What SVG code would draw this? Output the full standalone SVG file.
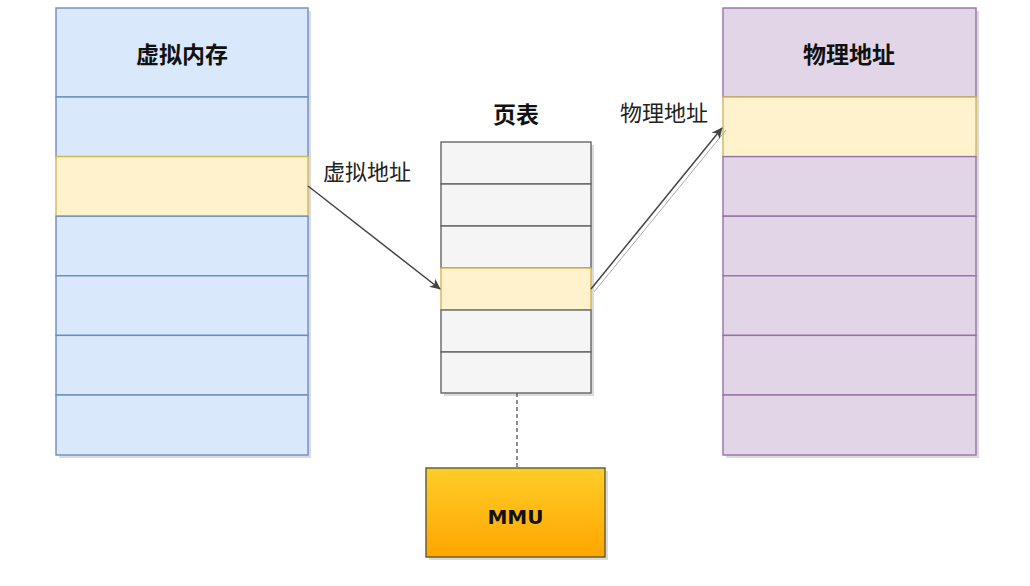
<svg xmlns="http://www.w3.org/2000/svg" width="1030" height="586" viewBox="0 0 1030 586">
<style>
.sh{fill:#000;opacity:0.14}
.blue{fill:#dae8fc;stroke:#6c8ebf;stroke-width:1.4}
.yel{fill:#fff2cc;stroke:#d6b656;stroke-width:1.4}
.pur{fill:#e1d5e7;stroke:#9673a6;stroke-width:1.4}
.gray{fill:#f5f5f5;stroke:#666666;stroke-width:1.4}
.title{font-family:"Noto Sans CJK SC","Noto Sans",sans-serif;font-weight:bold;font-size:23px;fill:#111;text-anchor:middle}
.lbl{font-family:"Noto Sans CJK SC","Noto Sans",sans-serif;font-size:22px;fill:#222;text-anchor:middle}
.edge{fill:none;stroke:#444;stroke-width:1.5}
</style>
<defs>
<linearGradient id="og" x1="0" y1="0" x2="0" y2="1">
<stop offset="0" stop-color="#ffcd28"/>
<stop offset="1" stop-color="#ffa500"/>
</linearGradient>
<marker id="ah" markerWidth="12" markerHeight="10" refX="10" refY="5" orient="auto" markerUnits="userSpaceOnUse">
<path d="M0,0 L11,5 L0,10 L3,5 Z" fill="#444"/>
</marker>
</defs>
<g id="virtual-memory">
<rect class="sh" x="59" y="11" width="252" height="447"/>
<rect class="blue" x="56" y="8" width="252" height="89"/>
<rect class="blue" x="56" y="97" width="252" height="59.6"/>
<rect class="yel" x="56" y="156.6" width="252" height="59.6"/>
<rect class="blue" x="56" y="216.2" width="252" height="59.6"/>
<rect class="blue" x="56" y="275.8" width="252" height="59.6"/>
<rect class="blue" x="56" y="335.4" width="252" height="59.6"/>
<rect class="blue" x="56" y="395" width="252" height="60"/>
<text class="title" x="182" y="63">虚拟内存</text>
</g>
<g id="page-table">
<text class="title" x="516" y="123">页表</text>
<rect class="sh" x="444" y="145" width="150" height="251"/>
<rect class="gray" x="441" y="142" width="150" height="42"/>
<rect class="gray" x="441" y="184" width="150" height="42"/>
<rect class="gray" x="441" y="226" width="150" height="42"/>
<rect class="yel" x="441" y="268" width="150" height="42"/>
<rect class="gray" x="441" y="310" width="150" height="42"/>
<rect class="gray" x="441" y="352" width="150" height="41"/>
</g>
<g id="physical-memory">
<rect class="sh" x="726" y="11" width="253" height="447"/>
<rect class="pur" x="723" y="8" width="253" height="89"/>
<rect class="yel" x="723" y="97" width="253" height="59.6"/>
<rect class="pur" x="723" y="156.6" width="253" height="59.6"/>
<rect class="pur" x="723" y="216.2" width="253" height="59.6"/>
<rect class="pur" x="723" y="275.8" width="253" height="59.6"/>
<rect class="pur" x="723" y="335.4" width="253" height="59.6"/>
<rect class="pur" x="723" y="395" width="253" height="60"/>
<text class="title" x="849" y="63">物理地址</text>
</g>
<g id="mmu">
<rect class="sh" x="429" y="471" width="179" height="89"/>
<rect x="426" y="468" width="179" height="89" fill="url(#og)" stroke="#5a5a3a" stroke-width="1.4"/>
<text x="515.5" y="524" font-family="'DejaVu Sans',sans-serif" font-weight="bold" font-size="20" fill="#111" text-anchor="middle">MMU</text>
</g>
<g id="connectors">
<path class="edge" d="M308,186 L440,289" marker-end="url(#ah)"/>
<path d="M594,292 L726,130" fill="none" stroke="#aaa" stroke-width="1"/>
<path class="edge" d="M591,289 L722,128" marker-end="url(#ah)"/>
<path d="M517,393 L517,468" fill="none" stroke="#444" stroke-width="1.2" stroke-dasharray="4 3"/>
<text class="lbl" x="367" y="180">虚拟地址</text>
<text class="lbl" x="664" y="121">物理地址</text>
</g>
</svg>
